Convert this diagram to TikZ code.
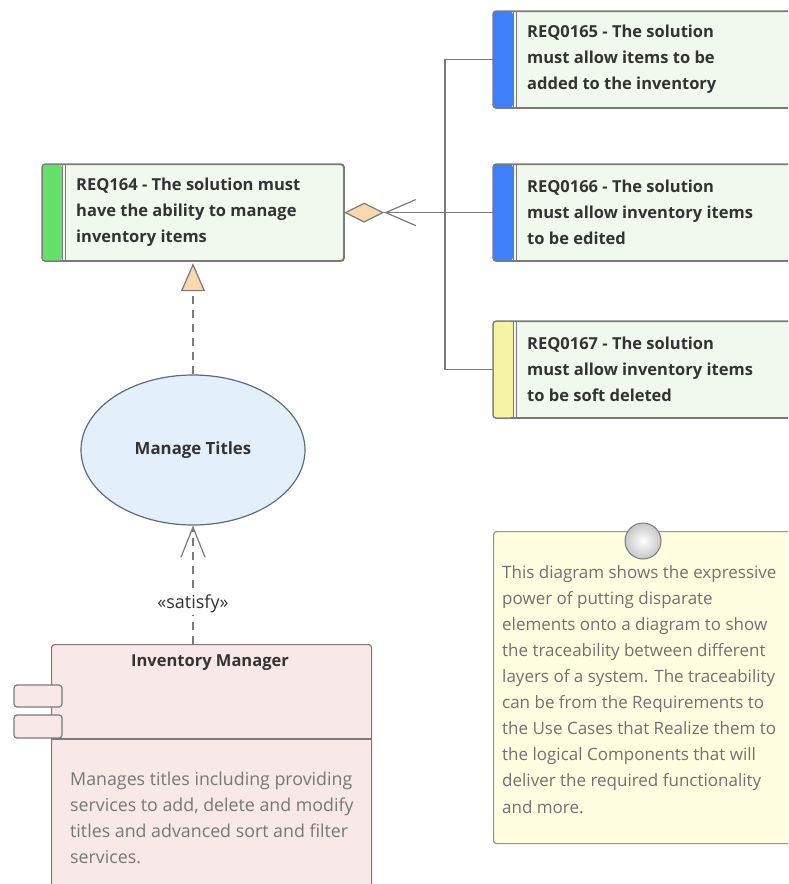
\documentclass[tikz,border=0pt]{standalone}
\usepackage{fontspec}
\setmainfont{Open Sans}
\usetikzlibrary{arrows.meta,shapes.geometric,shadings}
\definecolor{edge}{HTML}{7A7A7A}
\definecolor{reqfill}{HTML}{F1F9EE}
\definecolor{greenstrip}{HTML}{66E06A}
\definecolor{bluestrip}{HTML}{3F7FFA}
\definecolor{yellowstrip}{HTML}{F6F3A2}
\definecolor{ucfill}{HTML}{E4EFFC}
\definecolor{ucedge}{HTML}{5E6B7D}
\definecolor{compfill}{HTML}{F8E8E7}
\definecolor{notefill}{HTML}{FFFEE0}
\definecolor{peach}{HTML}{F8D9AE}
\definecolor{txt}{HTML}{333333}
\definecolor{softtxt}{HTML}{777777}
\tikzset{
  reqbox/.style={draw=edge, line width=1.2pt, fill=reqfill, rounded corners=3pt, minimum width=#1, minimum height=96pt, inner sep=0pt, anchor=north west},
  reqtext/.style={anchor=west, align=left, text=txt, font=\fontsize{16.5}{26}\selectfont\bfseries, inner sep=0pt},
  conn/.style={draw=edge, line width=1.2pt},
  dashline/.style={dash pattern=on 8pt off 6pt},
}
\begin{document}
\begin{tikzpicture}[x=1pt,y=-1pt]
\useasboundingbox (0,0) rectangle (788,884);
\clip (0,0) rectangle (788,884);
\fill[white] (0,0) rectangle (788,884);

% ---------- requirement boxes ----------
\node[reqbox=301pt] (req164) at (42,164) {};
\node[reqbox=330pt] (req165) at (493,11) {};
\node[reqbox=330pt] (req166) at (493,164) {};
\node[reqbox=330pt] (req167) at (493,321) {};

\begin{scope}
\foreach \n/\c in {req164/greenstrip,req165/bluestrip,req166/bluestrip,req167/yellowstrip}{
  \fill[\c, rounded corners=3pt] ([xshift=0.6pt,yshift=-0.6pt]\n.north west) rectangle ([xshift=20pt,yshift=0.6pt]\n.south west);
  \draw[edge, line width=1pt] ([xshift=20pt]\n.north west) -- ([xshift=20pt]\n.south west);
  \draw[edge, line width=1pt] ([xshift=23pt]\n.north west) -- ([xshift=23pt]\n.south west);
  \draw[edge, line width=1.2pt, rounded corners=3pt] (\n.north west) rectangle (\n.south east);
}
\end{scope}

\node[reqtext] (t164) at ([xshift=34pt]req164.west) {REQ164 - The solution must\\have the ability to manage\\inventory items};
\node[reqtext] (t165) at ([xshift=34pt]req165.west) {REQ0165 - The solution\\must allow items to be\\added to the inventory};
\node[reqtext] (t166) at ([xshift=34pt]req166.west) {REQ0166 - The solution\\must allow inventory items\\to be edited};
\node[reqtext] (t167) at ([xshift=34pt]req167.west) {REQ0167 - The solution\\must allow inventory items\\to be soft deleted};

% ---------- use case ----------
\node[ellipse, draw=ucedge, line width=1.2pt, fill=ucfill, minimum width=224pt, minimum height=150pt, text=txt, font=\fontsize{16.8}{20}\selectfont\bfseries] (uc) at (193,450) {Manage Titles};

% ---------- component ----------
\node[draw=edge, line width=1.2pt, fill=compfill, rounded corners=3pt, minimum width=320pt, minimum height=280pt, anchor=north west, inner sep=0pt] (comp) at (51,644) {};
\draw[edge, line width=1.2pt] (51,739) -- (371,739);
\node[font=\fontsize{16.5}{20}\selectfont\bfseries, text=txt] (ctitle) at (210,663) {Inventory Manager};
\node[draw=edge, line width=1.2pt, fill=compfill, rounded corners=3pt, minimum width=48pt, minimum height=22pt, inner sep=0pt] (port1) at (38,696) {};
\node[draw=edge, line width=1.2pt, fill=compfill, rounded corners=3pt, minimum width=48pt, minimum height=23pt, inner sep=0pt] (port2) at (38,726.5) {};
\node[anchor=north west, align=left, text=softtxt, font=\fontsize{17.8}{26}\selectfont, inner sep=0pt] (cdesc) at (70,772) {Manages titles including providing\\services to add, delete and modify\\titles and advanced sort and filter\\services.};

% ---------- note ----------
\node[draw=edge!80, line width=1.2pt, fill=notefill, rounded corners=3pt, minimum width=310pt, minimum height=312pt, anchor=north west, inner sep=0pt] (note) at (493,531) {};
\shade[inner color=white, outer color=black!22, draw=edge, line width=1pt] (643,541) circle (18pt);
\node[anchor=north west, align=left, text=softtxt!95!black, font=\fontsize{17}{26.1}\selectfont, inner sep=0pt] (ntext) at (502,565) {This diagram shows the expressive\\power of putting disparate\\elements onto a diagram to show\\the traceability between different\\layers of a system. The traceability\\can be  from the Requirements to\\the Use Cases that Realize them to\\the logical Components that will\\deliver the required functionality\\and more.};

% ---------- connectors ----------
% aggregation tree
\draw[conn] (req165.west) -- ++(-48,0) |- (req167.west);
\draw[conn, -{Straight Barb[length=30pt,width=26pt,line width=1.2pt] Diamond[length=40pt,width=20pt,fill=peach,line width=1.2pt]}] (req166.west) -- (req164.east);

% realization
\draw[conn, dashline, -{Triangle[length=28pt,width=24pt,fill=peach,line width=1.2pt]}] (uc.north) -- ([yshift=-2pt]req164.south -| uc.north);

% satisfy
\draw[conn, dashline, -{Straight Barb[length=30pt,width=24pt,line width=1.2pt]}] (comp.north -| uc.south) -- (uc.south);
\node[fill=white, text=txt, font=\fontsize{18}{20}\selectfont, inner sep=2pt] (satlbl) at (193,604) {«satisfy»};
\end{tikzpicture}
\end{document}
